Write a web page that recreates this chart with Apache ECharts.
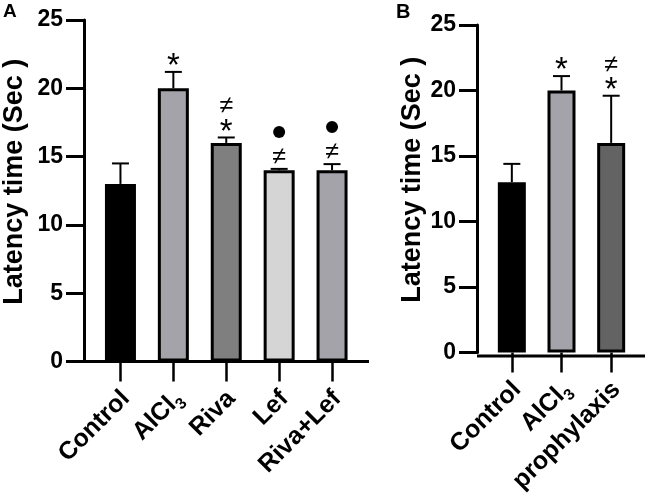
<!DOCTYPE html>
<html>
<head>
<meta charset="utf-8">
<script src="https://cdn.jsdelivr.net/npm/echarts@6/dist/echarts.min.js"></script>
<style>
html,body{margin:0;padding:0;background:#fff;}
#chart{width:645px;height:496px;}
</style>
</head>
<body>
<div id="chart"></div>
<script>
// ---- data ----
const categoriesA = ['Control', 'AlCl3', 'Riva', 'Lef', 'Riva+Lef'];
const meansA = [13, 20, 16, 14, 14];
const errorsA = [1.5, 1.2, 0.4, 0.1, 0.45];
const annotA = ['', '*', '\u2260\n*', '\u25CF\n\u2260', '\u25CF\n\u2260'];

const categoriesB = ['Control', 'AlCl3', 'prophylaxis'];
const meansB = [13, 20, 16];
const errorsB = [1.4, 1.1, 3.6];
const annotB = ['', '*', '\u2260\n*'];

const yTicks = [0, 5, 10, 15, 20, 25];

// ---- styles ----
const colorsA = ['#000000', '#a3a3a9', '#7f7f7f', '#d5d5d5', '#a3a3a9'];
const colorsB = ['#000000', '#a3a3a9', '#636363'];
const FONT = 'Liberation Sans, Arial, sans-serif';

const chart = echarts.init(document.getElementById('chart'));

function labelFmt(v) {
  return v === 'AlCl3' ? '{b|AlCl}{sub|3}' : '{b|' + v + '}';
}
const richLbl = {
  b: {fontSize: 25, fontWeight: 'bold', fontFamily: FONT, color: '#000', lineHeight: 30, verticalAlign: 'bottom'},
  sub: {fontSize: 16, fontWeight: 'bold', fontFamily: FONT, color: '#000', lineHeight: 22, verticalAlign: 'bottom', padding: [0, 0, -4, 0]}
};

function errRender(params, api) {
  const m = api.value(1), e = api.value(2);
  const p0 = api.coord([api.value(0), m]);
  const p1 = api.coord([api.value(0), m + e]);
  const cap = 8.5;
  const ls = {stroke: '#000', lineWidth: 2};
  return {type: 'group', children: [
    {type: 'line', shape: {x1: p0[0], y1: p0[1], x2: p1[0], y2: p1[1]}, style: ls},
    {type: 'line', shape: {x1: p1[0] - cap, y1: p1[1], x2: p1[0] + cap, y2: p1[1]}, style: ls}
  ]};
}

function annRender(annots) {
  return function (params, api) {
    const s = annots[params.dataIndex];
    if (!s) return {type: 'group', children: []};
    const lines = s.split('\n').reverse(); // bottom-up
    const top = api.coord([api.value(0), api.value(1) + api.value(2)]);
    const x = top[0];
    let y = top[1] - 12;
    const children = [];
    lines.forEach((g, i) => {
      if (i > 0) y -= (g === '\u25CF') ? 25 : 19;
      if (g === '\u25CF') {
        children.push({type: 'circle', shape: {cx: x, cy: y, r: 6}, style: {fill: '#000'}});
      } else if (g === '*') {
        children.push({type: 'text', x: x, y: y + 7, style: {text: '*', font: '33px ' + FONT, fill: '#000', align: 'center', verticalAlign: 'middle'}});
      } else {
        children.push({type: 'text', x: x, y: y, style: {text: g, font: '25px ' + FONT, fill: '#000', align: 'center', verticalAlign: 'middle'}});
      }
    });
    return {type: 'group', children: children};
  };
}

function yAxisCfg(gridIndex, gap) {
  return {
    type: 'value', gridIndex: gridIndex, min: 0, max: 25, interval: 5, offset: 10,
    name: 'Latency time (Sec )', nameLocation: 'middle', nameGap: gap,
    nameTextStyle: {fontSize: 27, fontWeight: 'bold', fontFamily: FONT, color: '#000', padding: [0, 0, 0, 18]},
    axisLine: {show: true, lineStyle: {color: '#000', width: 3}},
    axisTick: {show: true, length: 18, lineStyle: {color: '#000', width: 3}},
    axisLabel: {fontSize: 23, fontWeight: 'bold', fontFamily: FONT, color: '#000', margin: 21},
    splitLine: {show: false}
  };
}
function xAxisCfg(gridIndex, cats) {
  return {
    type: 'category', gridIndex: gridIndex, data: cats,
    axisLine: {show: false},
    axisTick: {show: true, alignWithLabel: true, length: 20, lineStyle: {color: '#000', width: 2.5}},
    axisLabel: {rotate: 45, margin: 28, padding: [10, 0, 0, 0], formatter: labelFmt, rich: richLbl, interval: 0}
  };
}

const option = {
  animation: false,
  grid: [
    {left: 93.5, width: 265, top: 20, height: 341.5},
    {left: 487, width: 149, top: 25, height: 331}
  ],
  xAxis: [xAxisCfg(0, categoriesA), xAxisCfg(1, categoriesB)],
  yAxis: [yAxisCfg(0, 56), yAxisCfg(1, 51)],
  graphic: [
    {type: 'line', shape: {x1: 84, y1: 361.5, x2: 369, y2: 361.5}, style: {stroke: '#000', lineWidth: 3}, z: 10},
    {type: 'line', shape: {x1: 477, y1: 356, x2: 645, y2: 356}, style: {stroke: '#000', lineWidth: 3}, z: 10},
    {type: 'text', left: 3, top: 2, style: {text: 'A', font: 'bold 19px ' + FONT, fill: '#000'}},
    {type: 'text', left: 396, top: 2, style: {text: 'B', font: 'bold 20px ' + FONT, fill: '#000'}}
  ],
  series: [
    {type: 'bar', xAxisIndex: 0, yAxisIndex: 0, barWidth: 31,
     data: meansA.map((v, i) => ({value: v, itemStyle: {color: colorsA[i]}})),
     itemStyle: {borderColor: '#000', borderWidth: 3}},
    {type: 'custom', xAxisIndex: 0, yAxisIndex: 0, renderItem: errRender,
     data: meansA.map((v, i) => [i, v, errorsA[i]]), z: 3},
    {type: 'custom', xAxisIndex: 0, yAxisIndex: 0, renderItem: annRender(annotA),
     data: meansA.map((v, i) => [i, v, errorsA[i]]), z: 3},
    {type: 'bar', xAxisIndex: 1, yAxisIndex: 1, barWidth: 28,
     data: meansB.map((v, i) => ({value: v, itemStyle: {color: colorsB[i]}})),
     itemStyle: {borderColor: '#000', borderWidth: 3}},
    {type: 'custom', xAxisIndex: 1, yAxisIndex: 1, renderItem: errRender,
     data: meansB.map((v, i) => [i, v, errorsB[i]]), z: 3},
    {type: 'custom', xAxisIndex: 1, yAxisIndex: 1, renderItem: annRender(annotB),
     data: meansB.map((v, i) => [i, v, errorsB[i]]), z: 3}
  ]
};
chart.setOption(option);
</script>
</body>
</html>
